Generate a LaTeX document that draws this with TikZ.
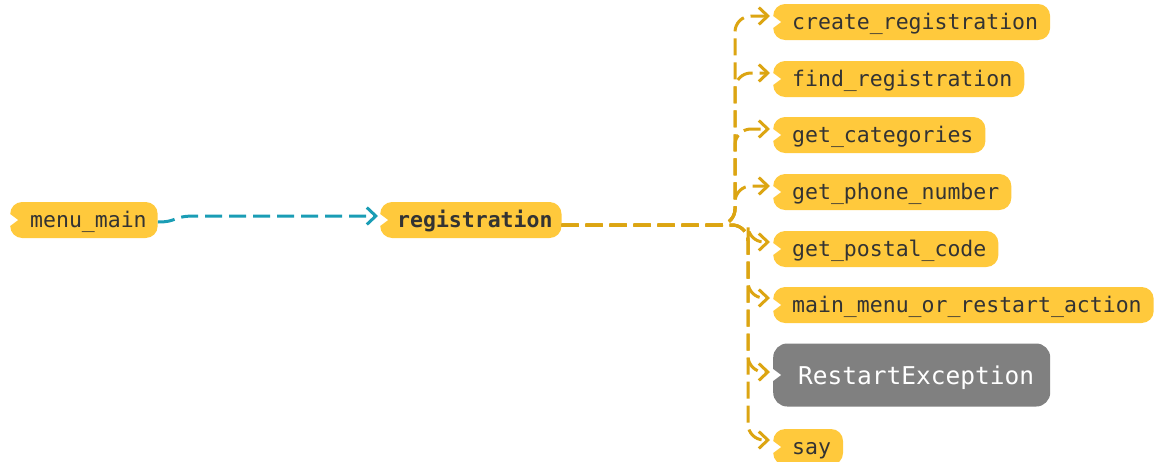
\documentclass[tikz,border=0pt]{standalone}
\usepackage{fontspec}
\setmonofont{DejaVu Sans Mono}
\usetikzlibrary{arrows.meta}
\definecolor{nodeyellow}{HTML}{FFC93C}
\definecolor{edgegold}{HTML}{DCA512}
\definecolor{edgeteal}{HTML}{1A9DB5}
\definecolor{textgray}{HTML}{333333}
\definecolor{exgray}{HTML}{808080}
\tikzset{
  fn/.style={fill=nodeyellow, rounded corners=12pt, minimum height=36pt, inner xsep=0pt, inner ysep=0pt, text height=19pt, text depth=5pt, anchor=west, text=textgray, font=\ttfamily\fontsize{21.5}{24}\selectfont},
  exnode/.style={fill=exgray, rounded corners=14pt, minimum height=63pt, inner xsep=0pt, inner ysep=0pt, text height=24pt, text depth=6pt, anchor=west, text=white, font=\ttfamily\fontsize{24.5}{28}\selectfont},
  yedge/.style={draw=edgegold, line width=3pt, dash pattern=on 17pt off 7pt, rounded corners=16pt, -{Straight Barb[length=9pt,width=17pt,line width=3pt]}},
  tedge/.style={draw=edgeteal, line width=3pt, dash pattern=on 17pt off 7pt, -{Straight Barb[length=9pt,width=17pt,line width=3pt]}},
  notch/.style={fill=white}
}
\begin{document}
\begin{tikzpicture}[x=1pt,y=-1pt]
\useasboundingbox (0,0) rectangle (1162,461);
\node[fn] (menu) at (10,220) {\hspace*{20pt}menu\_main\hspace*{11pt}};
\node[fn] (reg) at (380,220) {\hspace*{17pt}\bfseries registration\hspace*{9pt}};
\node[fn] (cr) at (773,22) {\hspace*{19pt}create\_registration\hspace*{12pt}};
\node[fn] (fr) at (773,79) {\hspace*{19pt}find\_registration\hspace*{12pt}};
\node[fn] (gc) at (773,135) {\hspace*{19pt}get\_categories\hspace*{12pt}};
\node[fn] (gp) at (773,192) {\hspace*{19pt}get\_phone\_number\hspace*{12pt}};
\node[fn] (gpc) at (773,249) {\hspace*{19pt}get\_postal\_code\hspace*{12pt}};
\node[fn] (mm) at (773,305) {\hspace*{19pt}main\_menu\_or\_restart\_action\hspace*{12pt}};
\node[exnode] (re) at (773,375) {\hspace*{25pt}RestartException\hspace*{16pt}};
\node[fn] (say) at (773,447) {\hspace*{19pt}say\hspace*{12pt}};
\foreach \n in {menu,reg,cr,fr,gc,gp,gpc,mm,re,say}{
  \fill[notch] (\n.west) ++(0,-6) -- ++(8,6) -- ++(-8,6) -- cycle;
}
\draw[tedge] ([yshift=-2pt]menu.east) .. controls (178,222) and (172,216) .. (195,216) -- ([xshift=-2pt,yshift=4pt]reg.west);
\coordinate (start) at ([yshift=-5pt]reg.east);
\foreach \n in {cr,fr,gc,gp}{
  \draw[yedge] (start) -- (735,225) |- ([xshift=-3pt,yshift=6pt]\n.west);
}
\foreach \n in {gpc,mm,say}{
  \draw[yedge] (start) -- (748,225) |- ([xshift=-3pt,yshift=7pt]\n.west);
}
\draw[yedge] (start) -- (748,225) |- ([xshift=-3pt,yshift=3pt]re.west);
\end{tikzpicture}
\end{document}
